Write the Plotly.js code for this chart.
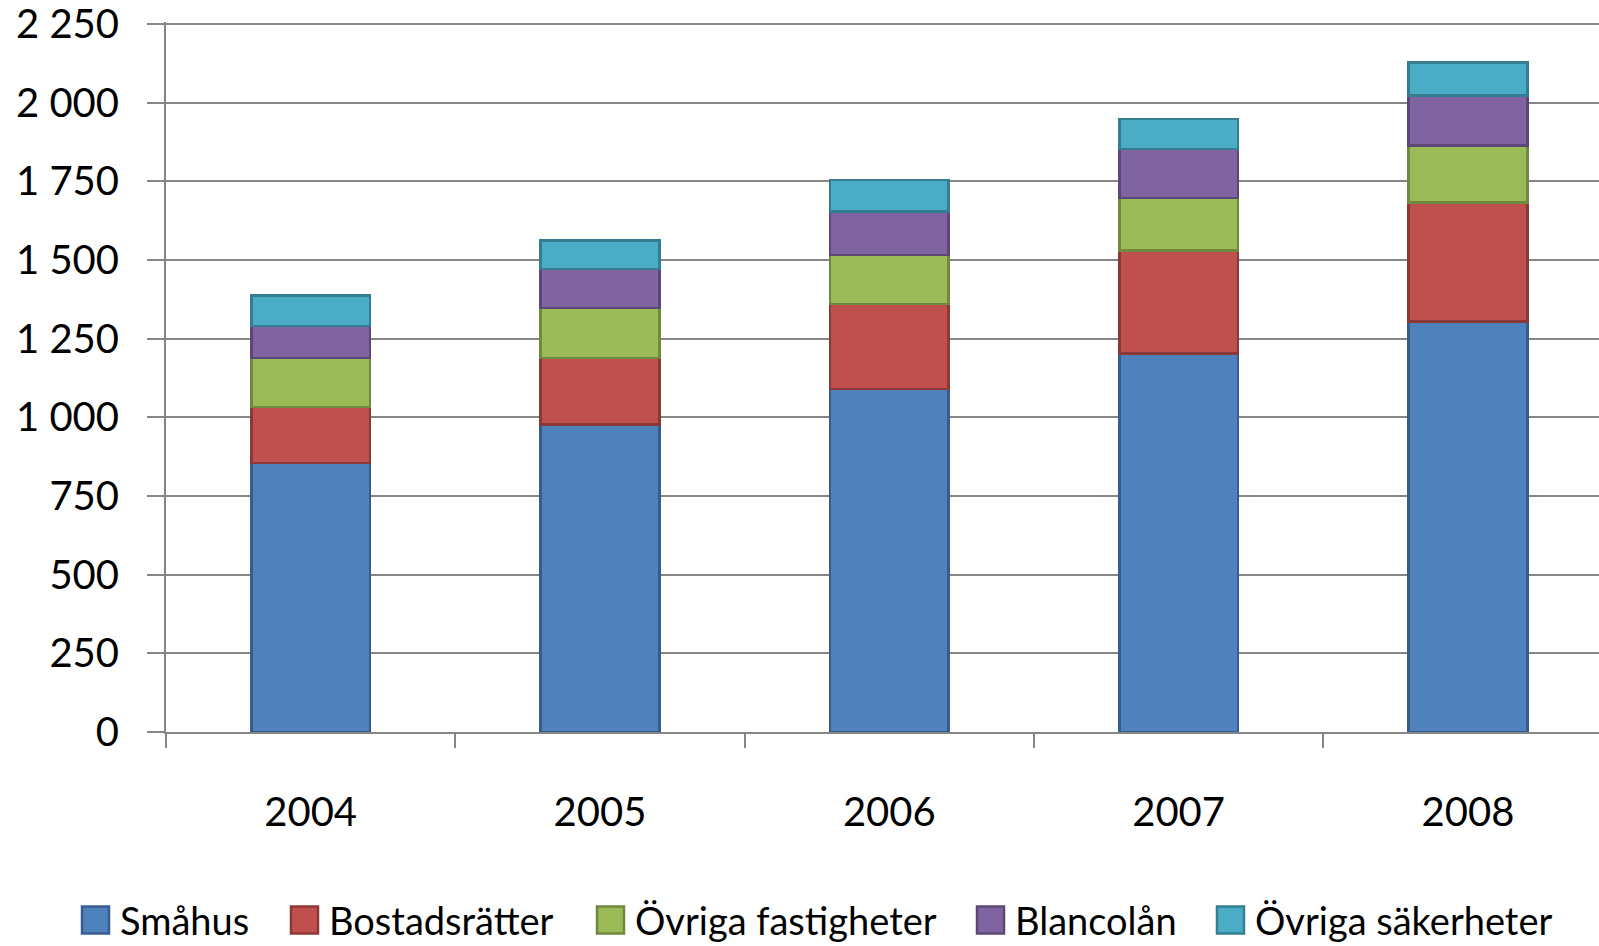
<!DOCTYPE html>
<html>
<head>
<meta charset="utf-8">
<script src="https://cdn.plot.ly/plotly-3.0.1.min.js"></script>
<style>
	html, body { margin: 0; padding: 0; background: #fff; overflow: hidden; }
</style>
</head>
<body>
<div id="chart"></div>
<script>
// år
const years = ["2004", "2005", "2006", "2007", "2008"]

// serier (mdr kr)
const smahus = [855, 977, 1090, 1203, 1305]
const bostadsratter = [178, 212, 270, 327, 379]
const ovrigaFastigheter = [156, 159, 157, 167, 181]
const blancolan = [102, 124, 138, 157, 158]
const ovrigaSakerheter = [96, 90, 100, 94, 105]

const seriesNames = ["Småhus", "Bostadsrätter", "Övriga fastigheter", "Blancolån", "Övriga säkerheter"]
const seriesValues = [smahus, bostadsratter, ovrigaFastigheter, blancolan, ovrigaSakerheter]
const fillColors = ["#4F81BD", "#C0504D", "#9BBB59", "#8064A2", "#4BACC6"]
const edgeColors = ["#385D8A", "#8C3836", "#71893F", "#5C4776", "#357D91"]

const gray = "#868686"
const FONT = "Lato, 'Open Sans', sans-serif"

// plot-area i pixlar
const W = 1599, H = 946
const M = { l: 166, r: 0, t: 22, b: 214 }
const plotW = W - M.l - M.r
const plotH = H - M.t - M.b
const px2x = px => (px - M.l) / plotW
const py2y = py => (H - M.b - py) / plotH

// legend (ritad för hand, som Excel: stora rutor, luft mellan posterna)
const legendLeft = [82, 291, 597, 977, 1217] // rutornas vänsterkant, px
const legendY = 920
const box = 27

const data = seriesNames.map((name, i) => ({
	type: 'bar',
	name: name,
	x: years,
	y: seriesValues[i],
	marker: {
		color: fillColors[i],
		line: { color: edgeColors[i], width: 2.5 }
	},
	hoverinfo: 'none'
}))

const shapes = []
const annotations = []
seriesNames.forEach((name, i) => {
	shapes.push({
		type: 'rect',
		xref: 'paper', yref: 'paper',
		x0: px2x(legendLeft[i]), x1: px2x(legendLeft[i] + box),
		y0: py2y(legendY - box / 2), y1: py2y(legendY + box / 2),
		fillcolor: fillColors[i],
		line: { color: edgeColors[i], width: 2.5 }
	})
	annotations.push({
		xref: 'paper', yref: 'paper',
		x: px2x(legendLeft[i] + box + 9),
		y: py2y(legendY),
		xanchor: 'left', yanchor: 'middle',
		text: name,
		showarrow: false,
		font: { family: FONT, size: 38, color: '#000' }
	})
})

const layout = {
	width: W,
	height: H,
	margin: { l: M.l, r: M.r, t: M.t, b: M.b, pad: 0, autoexpand: false },
	barmode: 'stack',
	bargap: 0.59,
	separators: ", ",
	paper_bgcolor: '#fff',
	plot_bgcolor: '#fff',
	font: { family: FONT, size: 40, color: '#000' },
	showlegend: false,
	shapes: shapes,
	annotations: annotations,
	xaxis: {
		type: 'category',
		range: [-0.5, 4.453],
		showgrid: false,
		showline: true,
		linecolor: gray,
		linewidth: 2,
		ticks: 'outside',
		tickson: 'boundaries',
		ticklen: 14,
		tickwidth: 2,
		tickcolor: gray,
		ticklabelstandoff: 44,
		tickfont: { family: FONT, size: 40, color: '#000' },
		fixedrange: true
	},
	yaxis: {
		range: [0, 2257],
		dtick: 250,
		tick0: 0,
		separatethousands: true,
		showgrid: true,
		gridcolor: gray,
		gridwidth: 2,
		zeroline: false,
		showline: true,
		linecolor: gray,
		linewidth: 2,
		ticks: 'outside',
		ticklen: 17,
		tickwidth: 2,
		tickcolor: gray,
		ticklabelstandoff: 20,
		ticklabeloverflow: 'allow',
		tickfont: { family: FONT, size: 40, color: '#000' },
		fixedrange: true
	}
}

Plotly.newPlot('chart', data, layout, { displayModeBar: false, staticPlot: true })
</script>
</body>
</html>
